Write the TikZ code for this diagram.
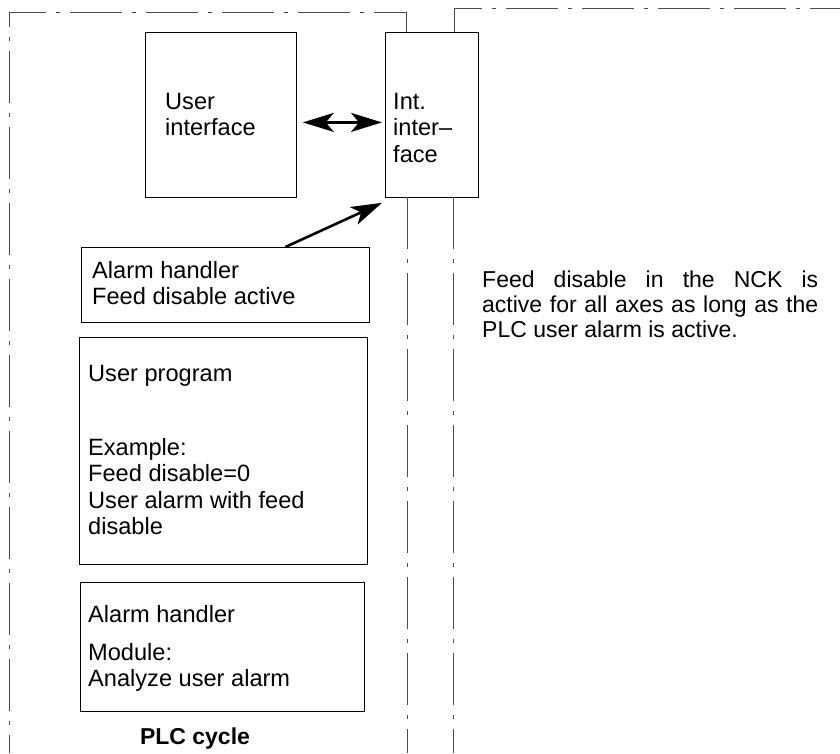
\documentclass[tikz,border=0pt]{standalone}
\usepackage{fontspec}
\setmainfont{Liberation Sans}
\usetikzlibrary{arrows.meta}

\tikzset{
  box/.style={draw, line width=0.8pt, inner sep=0pt, anchor=north west},
  txt/.style={inner sep=0pt, anchor=north west, align=left,
    font=\fontsize{23.6}{26.5}\selectfont},
  frame/.style={draw=black!70, line width=1pt,
    dash pattern=on 52pt off 10pt on 4pt off 10pt},
  bigarrow/.style={line width=2.6pt,
    >={Stealth[length=31pt,width=19pt,inset=8pt]}},
}

\begin{document}
\begin{tikzpicture}[x=1pt, y=-1pt]
  \useasboundingbox (0, 0) rectangle (840, 753);

  % boxes
  \node[box, minimum width=151, minimum height=165] (ui) at (145, 32) {};
  \node[box, minimum width=93, minimum height=165] (intf) at (385, 32) {};
  \node[box, minimum width=288, minimum height=75] (alarmA) at (81, 247) {};
  \node[box, minimum width=288, minimum height=227] (userprog) at (79, 337) {};
  \node[box, minimum width=284, minimum height=129] (alarmB) at (80, 582) {};

  % texts
  \node[txt] (uiText) at (165, 93) {User\\interface};
  \node[txt] (intfText) at (393, 93) {Int.\\inter--\\face};
  \node[txt] (alarmAText) at (92, 261) {Alarm handler\\Feed disable active};
  \node[txt] (userprogText) at (88, 365) {User program};
  \node[txt] (exampleText) at (88, 438)
    {Example:\\Feed disable=0\\User alarm with feed\\disable};
  \node[txt] (alarmBText) at (88, 605) {Alarm handler};
  \node[txt] (moduleText) at (88, 643) {Module:\\Analyze user alarm};
  \node[txt, anchor=north, font=\fontsize{23}{26}\selectfont\bfseries]
    (plccycle) at (195, 728) {PLC cycle};
  \node[txt, text width=336pt, align=justify, font=\fontsize{23}{25}\selectfont]
    (nckNote) at (482, 271)
    {Feed disable in the NCK is\linebreak active for all axes as long as the\linebreak
     PLC user alarm is active.};

  % PLC and NCK frames
  \coordinate (plcTop) at (406, 12);
  \coordinate (nckTop) at (454, 8);
  \draw[frame] (intf.north -| plcTop) -- (plcTop) -- (9, 12) -- (9, 753);
  \draw[frame] (407, 197) -- (407, 753);
  \draw[frame] (intf.north -| nckTop) -- (nckTop) -- (840, 8);
  \draw[frame] (453, 197) -- (453, 753);

  % arrows
  \draw[bigarrow, <->, shorten <=6pt, shorten >=3pt]
    ([yshift=-7.5pt]ui.east) -- ([yshift=-7.5pt]intf.west);
  \draw[bigarrow, ->] ([xshift=60pt]alarmA.north) -- ([shift={(-3pt,-5pt)}]intf.south west);
\end{tikzpicture}
\end{document}
